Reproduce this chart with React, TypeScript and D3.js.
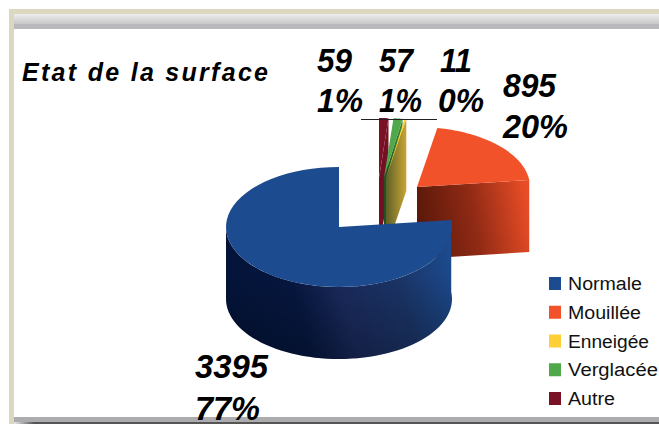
import React from "react";
import * as d3 from "d3";

const categories = ["Normale", "Autre", "Verglacée", "Enneigée", "Mouillée"];
const values = [3395, 59, 57, 11, 895];
const percents = ["77%", "1%", "1%", "0%", "20%"];
const legendOrder = ["Normale", "Mouillée", "Enneigée", "Verglacée", "Autre"];
const topColors = ["#1c4b8f", "#7a1226", "#4fa84a", "#ffd035", "#f2522a"];
const legendColors = ["#1c4b8f", "#f2522a", "#ffd035", "#4fa84a", "#7a1226"];

const W = 659, H = 424, RX = 113, RY = 60, DEPTH = 72;
const centers: [number, number][] = [[339, 227], [379, 178], [384, 178], [386, 178], [417, 187]];
const faceFill = ["none", "url(#gRed)", "url(#gGreen)", "url(#gGold)", "url(#gOrange)"];
const labelPos: [number, number, number, number, number, number][] = [
  [195, 378, 73, 195, 420, 65],
  [317, 72, 35, 317, 112, 46],
  [379, 72, 34, 379, 112, 43],
  [440, 72, 32, 438, 112, 46],
  [503, 97, 53, 503, 138, 65],
];
const FONT = "'Liberation Sans', Arial, sans-serif";

const pie = d3.pie<number>().sort(null)
  .startAngle((83.3 * Math.PI) / 180)
  .endAngle(((83.3 + 360) * Math.PI) / 180);
const arcs = pie(values);

const pt = (c: [number, number], a: number, dz = 0): [number, number] => [
  c[0] + RX * Math.sin(a),
  c[1] - RY * Math.cos(a) + dz,
];
const sample = (a0: number, a1: number) =>
  d3.range(0, 61).map((i) => a0 + ((a1 - a0) * i) / 60);
const line = d3.line<[number, number]>();

const topPath = (c: [number, number], a0: number, a1: number) =>
  line([c, ...sample(a0, a1).map((a) => pt(c, a))]) + "Z";
const cutFace = (c: [number, number], a: number) =>
  line([c, pt(c, a), pt(c, a, DEPTH), [c[0], c[1] + DEPTH]]) + "Z";
const wallPath = (c: [number, number], a0: number, a1: number) => {
  const s = sample(a0, a1);
  return line([...s.map((a) => pt(c, a)), ...s.slice().reverse().map((a) => pt(c, a, DEPTH))]) + "Z";
};

export default function App() {
  const drawOrder = [1, 2, 3, 4, 0];
  const legendY = d3.scalePoint<string>().domain(legendOrder).range([283.5, 398.5]);
  return (
    <svg width={W} height={H} viewBox={`0 0 ${W} ${H}`} style={{ position: "absolute", left: 0, top: 0 }}>
      <defs>
        <linearGradient id="gHead" x1="0" y1="0" x2="0" y2="1">
          <stop offset="0" stopColor="#ededed" />
          <stop offset="1" stopColor="#c8c8c8" />
        </linearGradient>
        <linearGradient id="gFoot" gradientUnits="userSpaceOnUse" x1="14" y1="0" x2="34" y2="0">
          <stop offset="0" stopColor="#e8e8e8" />
          <stop offset="1" stopColor="#555" />
        </linearGradient>
        <linearGradient id="gBlue" gradientUnits="userSpaceOnUse" x1="228" y1="310" x2="452" y2="255">
          <stop offset="0" stopColor="#031338" />
          <stop offset="0.3" stopColor="#06173f" />
          <stop offset="0.5" stopColor="#1a2a5c" />
          <stop offset="0.75" stopColor="#1a3466" />
          <stop offset="1" stopColor="#1c4b8f" />
        </linearGradient>
        <linearGradient id="gShade" gradientUnits="userSpaceOnUse" x1="0" y1="275" x2="0" y2="360">
          <stop offset="0" stopColor="#000" stopOpacity="0" />
          <stop offset="1" stopColor="#000" stopOpacity="0.25" />
        </linearGradient>
        <linearGradient id="gOrange" gradientUnits="userSpaceOnUse" x1="417" y1="220" x2="528" y2="200">
          <stop offset="0" stopColor="#5a1809" />
          <stop offset="0.5" stopColor="#902a15" />
          <stop offset="1" stopColor="#e94d26" />
        </linearGradient>
        <linearGradient id="gGold" gradientUnits="userSpaceOnUse" x1="386" y1="200" x2="406" y2="200">
          <stop offset="0" stopColor="#5d6028" />
          <stop offset="1" stopColor="#c8a335" />
        </linearGradient>
        <linearGradient id="gGreen" gradientUnits="userSpaceOnUse" x1="384" y1="200" x2="403" y2="200">
          <stop offset="0" stopColor="#1f4f22" />
          <stop offset="1" stopColor="#3f8a3c" />
        </linearGradient>
        <linearGradient id="gRed" gradientUnits="userSpaceOnUse" x1="379" y1="200" x2="389" y2="200">
          <stop offset="0" stopColor="#6e0f22" />
          <stop offset="1" stopColor="#7a1226" />
        </linearGradient>
      </defs>

      <rect x={0} y={0} width={W} height={H} fill="#fff" />
      <rect x={9} y={9} width={W - 9} height={H - 9} fill="#dcd8c0" />
      <rect x={14} y={14} width={W - 14} height={403} fill="#fff" />
      <rect x={14} y={14} width={W - 14} height={10} fill="url(#gHead)" />
      <rect x={14} y={24} width={W - 14} height={5} fill="#b9b8bc" />
      <rect x={14} y={417} width={W - 14} height={5} fill="#acacae" />
      <rect x={14} y={422} width={W - 14} height={2} fill="url(#gFoot)" />

      {drawOrder.map((i) => {
        const a = arcs[i];
        const c = centers[i];
        const wall = wallPath(c, a.startAngle, (270 * Math.PI) / 180);
        return (
          <g key={categories[i]}>
            {i === 0 ? (
              <>
                <path d={wall} fill="url(#gBlue)" />
                <path d={wall} fill="url(#gShade)" />
              </>
            ) : (
              <path d={cutFace(c, a.endAngle)} fill={faceFill[i]} />
            )}
            <path d={topPath(c, a.startAngle, a.endAngle)} fill={topColors[i]} />
          </g>
        );
      })}

      <line x1={361} x2={437} y1={119.5} y2={119.5} stroke="#222" strokeWidth={1} />

      <text x={22} y={81} fontFamily={FONT} fontSize={25} fontWeight="bold" fontStyle="italic" fill="#000"
        textLength={246} lengthAdjust="spacing">Etat de la surface</text>

      {categories.map((cat, i) => {
        const p = labelPos[i];
        const s = { fontFamily: FONT, fontSize: 33, fontWeight: "bold", fontStyle: "italic", fill: "#000" } as const;
        return (
          <g key={cat}>
            <text x={p[0]} y={p[1]} {...s} textLength={p[2]} lengthAdjust="spacingAndGlyphs">{values[i]}</text>
            <text x={p[3]} y={p[4]} {...s} textLength={p[5]} lengthAdjust="spacingAndGlyphs">{percents[i]}</text>
          </g>
        );
      })}

      {legendOrder.map((name, i) => (
        <g key={name}>
          <rect x={549} y={legendY(name)! - 6.5} width={12} height={13} fill={legendColors[i]} />
          <text x={568} y={legendY(name)! + 6.5} fontFamily={FONT} fontSize={18} fill="#111"
            textLength={[74, 73, 81, 90, 47][i]} lengthAdjust="spacingAndGlyphs">{name}</text>
        </g>
      ))}
    </svg>
  );
}
